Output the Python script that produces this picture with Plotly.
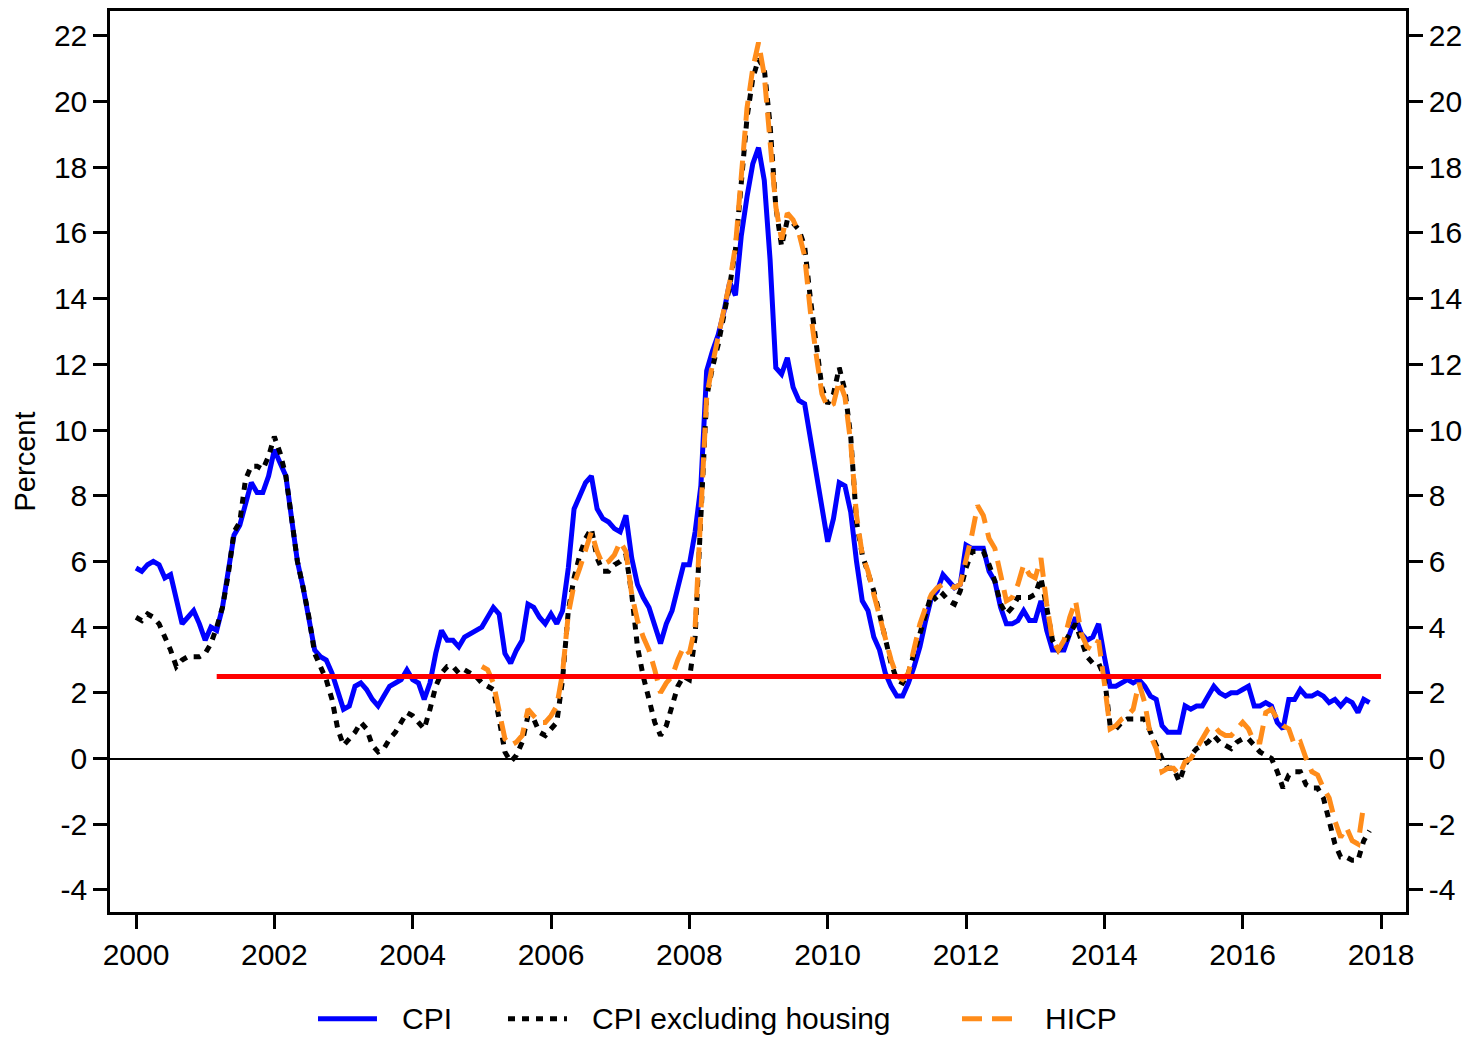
import plotly.graph_objects as go

# ---------------- data (12-month inflation, %) ----------------
CPI_START_YEAR = 2000
HICP_START_YEAR = 2005

cpi = [
    5.8, 5.7, 5.9, 6.0, 5.9, 5.5, 5.6, 4.8, 4.1, 4.3, 4.5, 4.1,   # 2000
    3.6, 4.0, 3.9, 4.6, 5.6, 6.8, 7.1, 7.7, 8.4, 8.1, 8.1, 8.6,   # 2001
    9.4, 9.0, 8.6, 7.3, 6.0, 5.2, 4.3, 3.3, 3.1, 3.0, 2.6, 2.0,   # 2002
    1.5, 1.6, 2.2, 2.3, 2.1, 1.8, 1.6, 1.9, 2.2, 2.3, 2.4, 2.7,   # 2003
    2.4, 2.3, 1.8, 2.3, 3.2, 3.9, 3.6, 3.6, 3.4, 3.7, 3.8, 3.9,   # 2004
    4.0, 4.3, 4.6, 4.4, 3.2, 2.9, 3.3, 3.6, 4.7, 4.6, 4.3, 4.1,   # 2005
    4.4, 4.1, 4.5, 5.8, 7.6, 8.0, 8.4, 8.6, 7.6, 7.3, 7.2, 7.0,   # 2006
    6.9, 7.4, 6.1, 5.3, 4.9, 4.6, 4.0, 3.5, 4.1, 4.5, 5.2, 5.9,   # 2007
    5.9, 6.9, 8.3, 11.8, 12.4, 12.9, 13.6, 14.5, 14.1, 15.9, 17.1, 18.1,  # 2008
    18.6, 17.6, 15.2, 11.9, 11.7, 12.2, 11.3, 10.9, 10.8, 9.7, 8.6, 7.5,  # 2009
    6.6, 7.3, 8.4, 8.3, 7.5, 6.0, 4.8, 4.5, 3.7, 3.3, 2.6, 2.2,   # 2010
    1.9, 1.9, 2.3, 2.8, 3.4, 4.2, 4.9, 5.1, 5.6, 5.4, 5.2, 5.3,   # 2011
    6.5, 6.4, 6.4, 6.4, 5.7, 5.4, 4.6, 4.1, 4.1, 4.2, 4.5, 4.2,   # 2012
    4.2, 4.8, 3.9, 3.3, 3.3, 3.3, 3.8, 4.3, 3.8, 3.6, 3.7, 4.1,   # 2013
    3.1, 2.2, 2.2, 2.3, 2.4, 2.3, 2.4, 2.2, 1.9, 1.8, 1.0, 0.8,   # 2014
    0.8, 0.8, 1.6, 1.5, 1.6, 1.6, 1.9, 2.2, 2.0, 1.9, 2.0, 2.0,   # 2015
    2.1, 2.2, 1.6, 1.6, 1.7, 1.6, 1.1, 0.9, 1.8, 1.8, 2.1, 1.9,   # 2016
    1.9, 2.0, 1.9, 1.7, 1.8, 1.6, 1.8, 1.7, 1.4, 1.8, 1.7,        # 2017
]

cpi_ex_housing = [
    4.3, 4.2, 4.4, 4.3, 4.1, 3.7, 3.3, 2.8, 3.0, 3.1, 3.1, 3.1,   # 2000
    3.2, 3.5, 4.0, 4.6, 5.6, 6.9, 7.2, 8.5, 8.9, 8.9, 8.8, 9.2,   # 2001
    9.8, 9.3, 8.6, 7.3, 6.0, 5.2, 4.3, 3.2, 2.8, 2.4, 1.8, 0.9,   # 2002
    0.4, 0.6, 0.8, 1.1, 0.9, 0.4, 0.2, 0.3, 0.6, 0.8, 1.1, 1.4,   # 2003
    1.3, 1.1, 0.9, 1.5, 2.2, 2.6, 2.8, 2.8, 2.6, 2.7, 2.6, 2.5,   # 2004
    2.3, 2.2, 2.1, 1.2, 0.2, -0.1, 0.1, 0.5, 1.3, 1.2, 0.8, 0.7,  # 2005
    0.9, 1.1, 2.4, 4.5, 5.5, 6.2, 6.7, 7.0, 6.1, 5.7, 5.7, 5.9,   # 2006
    6.0, 6.2, 5.0, 3.4, 2.5, 1.8, 1.1, 0.7, 1.0, 1.6, 2.2, 2.5,   # 2007
    2.4, 3.7, 7.0, 11.0, 11.9, 12.6, 13.5, 14.4, 15.5, 17.4, 19.5, 20.7,  # 2008
    21.3, 21.0, 19.3, 16.8, 15.6, 16.4, 16.3, 16.1, 15.6, 14.0, 12.6, 11.3,  # 2009
    10.8, 11.1, 11.9, 11.2, 9.8, 7.2, 6.2, 5.7, 5.1, 4.4, 3.7, 2.9,  # 2010
    2.4, 2.3, 2.6, 3.2, 3.9, 4.5, 5.0, 4.8, 5.0, 4.8, 4.7, 5.1,   # 2011
    5.8, 6.3, 6.3, 6.3, 5.9, 5.4, 4.7, 4.4, 4.6, 4.9, 4.9, 4.9,   # 2012
    5.0, 5.5, 4.6, 3.6, 3.3, 3.5, 3.8, 4.1, 3.6, 3.1, 2.9, 2.9,   # 2013
    2.5, 1.0, 0.9, 1.1, 1.2, 1.2, 1.2, 1.2, 0.8, 0.4, 0.0, -0.3,  # 2014
    -0.3, -0.7, -0.2, 0.1, 0.3, 0.4, 0.5, 0.7, 0.5, 0.4, 0.3, 0.5,  # 2015
    0.6, 0.6, 0.4, 0.2, 0.1, 0.0, -0.4, -0.9, -0.5, -0.4, -0.4, -0.8,  # 2016
    -0.9, -0.9, -1.2, -1.9, -2.6, -3.0, -3.0, -3.1, -3.1, -2.5, -2.2,  # 2017
]

hicp = [
    2.8, 2.7, 2.3, 1.5, 0.6, 0.4, 0.5, 0.7, 1.5, 1.3, 1.1, 1.1,   # 2005
    1.3, 1.6, 2.6, 4.4, 5.3, 5.8, 6.4, 6.9, 6.3, 5.9, 6.0, 6.2,   # 2006
    6.6, 6.3, 5.0, 4.2, 3.7, 3.3, 2.7, 2.0, 2.3, 2.5, 3.0, 3.4,   # 2007
    3.2, 4.0, 7.5, 11.0, 12.0, 12.8, 13.6, 14.5, 15.6, 17.8, 19.8, 21.0,  # 2008
    21.8, 20.8, 18.7, 16.8, 15.8, 16.6, 16.4, 16.0, 15.3, 13.6, 12.3, 11.1,  # 2009
    10.7, 10.8, 11.5, 11.0, 9.6, 7.4, 6.2, 5.7, 5.0, 4.3, 3.6, 3.0,  # 2010
    2.5, 2.4, 2.6, 3.3, 4.1, 4.6, 5.0, 5.2, 5.3, 5.3, 5.2, 5.3,   # 2011
    6.0, 6.8, 7.7, 7.4, 6.7, 6.4, 5.6, 4.8, 4.9, 5.3, 5.9, 5.6,   # 2012
    5.5, 6.1, 4.7, 3.6, 3.3, 3.6, 4.3, 4.8, 3.8, 3.4, 3.3, 3.6,   # 2013
    2.3, 0.9, 1.0, 1.2, 1.3, 1.5, 2.3, 1.7, 0.7, 0.3, -0.4, -0.3,  # 2014
    -0.3, -0.5, -0.1, 0.0, 0.3, 0.6, 0.9, 1.0, 0.8, 0.7, 0.7, 0.9,  # 2015
    1.1, 0.9, 0.5, 0.5, 1.4, 1.5, 1.2, 1.0, 0.9, 0.4, 0.5, 0.0,   # 2016
    -0.4, -0.5, -0.9, -1.2, -1.9, -2.4, -2.1, -2.5, -2.6, -1.4,   # 2017
]

inflation_target = 2.5
target_start = 2001 + 2 / 12   # March 2001
target_end = 2018.0

series_names = ["CPI", "CPI excluding housing", "HICP"]
x_tick_years = list(range(2000, 2019, 2))
y_ticks = list(range(-4, 23, 2))
y_tick_labels = [str(v) for v in y_ticks]   # plain hyphen minus as in original


def month_axis(start_year, n):
    return [start_year + i / 12 for i in range(n)]


BLUE = "#0000FF"
ORANGE = "#FF8C1A"
RED = "#FF0000"
FONT = "Liberation Sans, Arial, sans-serif"
LW = 5

fig = go.Figure()

# inflation target line
fig.add_trace(go.Scatter(
    x=[target_start, target_end], y=[inflation_target, inflation_target],
    mode="lines", line=dict(color=RED, width=LW), yaxis="y2",
    showlegend=False, hoverinfo="skip"))

fig.add_trace(go.Scatter(
    x=month_axis(CPI_START_YEAR, len(cpi)), y=cpi, name=series_names[0],
    mode="lines", line=dict(color=BLUE, width=LW), showlegend=False))

fig.add_trace(go.Scatter(
    x=month_axis(CPI_START_YEAR, len(cpi_ex_housing)), y=cpi_ex_housing,
    name=series_names[1], mode="lines",
    line=dict(color="black", width=LW, dash="7px,7px"), showlegend=False))

fig.add_trace(go.Scatter(
    x=month_axis(HICP_START_YEAR, len(hicp)), y=hicp, name=series_names[2],
    mode="lines", line=dict(color=ORANGE, width=LW, dash="20px,10px"),
    showlegend=False))

x_range = [1999.624, 2018.361]
y_range = [-4.673, 22.758]
TICKF = dict(size=30)

fig.update_layout(
    width=1466, height=1031,
    margin=dict(l=102, r=68, t=0, b=127),
    paper_bgcolor="white", plot_bgcolor="white",
    font=dict(family=FONT, color="black", size=30),
    xaxis=dict(range=x_range, tickmode="array", tickvals=x_tick_years,
               ticktext=[str(v) for v in x_tick_years],
               showgrid=False, zeroline=False, showline=True, mirror=True,
               linecolor="black", linewidth=2.5, ticks="outside",
               ticklen=14, tickwidth=2.5, tickcolor="black",
               tickfont=TICKF),
    yaxis=dict(range=y_range, tickmode="array", tickvals=y_ticks,
               ticktext=y_tick_labels,
               showgrid=False, zeroline=True, zerolinecolor="black",
               zerolinewidth=2, showline=True, linecolor="black",
               linewidth=2.5, ticks="outside", ticklen=14, tickwidth=2.5,
               tickcolor="black", tickfont=TICKF),
    yaxis2=dict(range=y_range, tickmode="array", tickvals=y_ticks,
                ticktext=y_tick_labels,
                overlaying="y", side="right", showgrid=False, zeroline=False,
                showline=True, linecolor="black", linewidth=2.5,
                ticks="outside", ticklen=14, tickwidth=2.5, tickcolor="black",
                tickfont=TICKF),
    showlegend=False,
)

# y-axis title
fig.add_annotation(text="Percent", xref="paper", yref="paper",
                   x=-0.0656, y=0.5, textangle=-90, showarrow=False,
                   font=dict(size=29), xanchor="center", yanchor="middle")

# legend drawn below the plot
legend_y = -0.1184
legend_items = [
    (series_names[0], BLUE, "solid", 0.1605, 0.2060, 0.2238),
    (series_names[1], "black", "7px,7px", 0.3071, 0.3526, 0.3704),
    (series_names[2], ORANGE, "20px,10px", 0.6574, 0.7006, 0.7199),
]
for name, color, dash, xs0, xs1, xt in legend_items:
    fig.add_shape(type="line", xref="paper", yref="paper",
                  x0=xs0, x1=xs1, y0=legend_y, y1=legend_y,
                  line=dict(color=color, width=5, dash=dash))
    fig.add_annotation(text=name, xref="paper", yref="paper", x=xt,
                       y=legend_y, xanchor="left", yanchor="middle",
                       showarrow=False, font=dict(size=30))

fig.write_html("out.html")
